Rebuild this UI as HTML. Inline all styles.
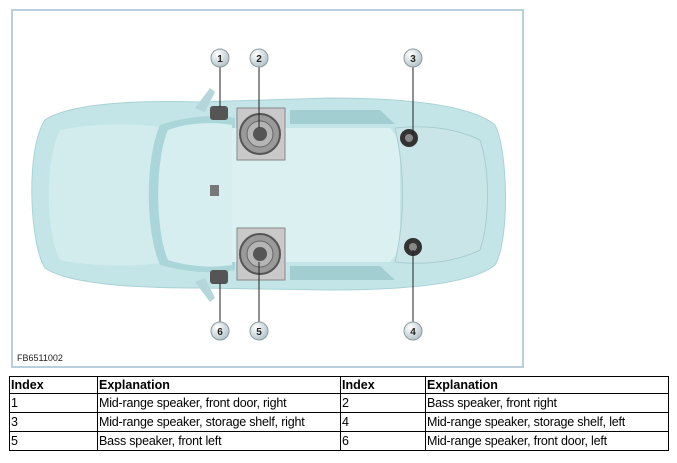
<!DOCTYPE html>
<html><head><meta charset="utf-8"><style>
body{margin:0;background:#fff;width:677px;height:463px;overflow:hidden;font-family:"Liberation Sans",Arial,sans-serif}
.frame{position:absolute;left:11px;top:9px;width:509px;height:355px;border:2px solid #b9cfdc}
table{position:absolute;left:9px;top:376px;border-collapse:collapse;font-size:12.5px;table-layout:fixed;width:659px}
td{border:1px solid #000;height:18px;padding:0 1px;line-height:18px;white-space:nowrap;overflow:hidden;letter-spacing:-0.2px}
th{border:1px solid #000;height:16px;padding:0 1px;text-align:left;font-weight:bold;font-size:12.5px}
</style></head><body>
<div class="frame"></div>
<svg width="677" height="370" style="position:absolute;left:0;top:0">
<defs>
<radialGradient id="cir" cx="35%" cy="30%" r="70%"><stop offset="0" stop-color="#ffffff"/><stop offset="1" stop-color="#b8c6cc"/></radialGradient>
</defs>
<path d="M45,120 C70,103 140,100 200,102 L330,98 C400,98 470,104 495,125 C508,150 510,240 495,265 C470,285 400,290 330,290 L200,288 C140,288 70,285 45,268 C30,245 25,150 45,120 Z" fill="#c4e5e8" stroke="#a9d2d6"/>
<path d="M60,130 C110,120 170,125 200,135 L200,255 C170,265 110,270 60,260 C45,230 45,160 60,130Z" fill="#d2ecee"/>
<path d="M160,125 C190,115 215,115 235,118 L235,270 C215,274 190,273 160,265 C145,230 145,160 160,125Z" fill="#aad6da"/>
<path d="M168,130 C190,122 215,122 232,125 L232,265 C215,268 190,267 168,260 C155,230 155,160 168,130Z" fill="#d6eef0"/>
<path d="M232,128 L390,128 L400,140 L400,250 L390,262 L232,262Z" fill="#daf0f1"/>
<path d="M395,128 C430,124 460,130 480,140 C490,170 490,220 480,250 C460,260 430,266 395,262 C405,220 405,170 395,128Z" fill="#cae5e8" stroke="#a9cdd1"/>
<path d="M290,110 L380,110 L395,124 L290,124Z" fill="#a2cdd1"/>
<path d="M290,266 L380,266 L395,280 L290,280Z" fill="#a2cdd1"/>
<path d="M195,108 L210,88 L215,92 L205,112Z" fill="#b5d6da"/>
<path d="M195,282 L210,302 L215,298 L205,278Z" fill="#b5d6da"/>
<g>
<rect x="237" y="108" width="48" height="52" fill="#c9c9c9" stroke="#888"/>
<circle cx="260" cy="134" r="20" fill="#9a9a9a" stroke="#555" stroke-width="2"/>
<circle cx="260" cy="134" r="13" fill="#b5b5b5" stroke="#666"/>
<circle cx="260" cy="134" r="7" fill="#555"/>
</g>
<g>
<rect x="237" y="228" width="48" height="52" fill="#c9c9c9" stroke="#888"/>
<circle cx="260" cy="254" r="20" fill="#9a9a9a" stroke="#555" stroke-width="2"/>
<circle cx="260" cy="254" r="13" fill="#b5b5b5" stroke="#666"/>
<circle cx="260" cy="254" r="7" fill="#555"/>
</g>
<rect x="210" y="106" width="18" height="14" rx="3" fill="#555"/>
<rect x="210" y="270" width="18" height="14" rx="3" fill="#555"/>
<circle cx="409" cy="138" r="9" fill="#333"/><circle cx="409" cy="138" r="4" fill="#888"/>
<circle cx="413" cy="247" r="9" fill="#333"/><circle cx="413" cy="247" r="4" fill="#888"/>
<rect x="210" y="185" width="9" height="11" fill="#777"/>
<g stroke="#222" stroke-width="1">
<line x1="220" y1="67" x2="220" y2="107"/>
<line x1="259" y1="67" x2="259" y2="128"/>
<line x1="413" y1="67" x2="413" y2="135"/>
<line x1="413" y1="250" x2="413" y2="322"/>
<line x1="259" y1="262" x2="259" y2="322"/>
<line x1="220" y1="283" x2="220" y2="322"/>
</g>
<g font-size="10" font-weight="bold" text-anchor="middle" fill="#222">
<circle cx="220" cy="58" r="9" fill="url(#cir)" stroke="#8a9aa2"/><text x="220" y="62">1</text>
<circle cx="259" cy="58" r="9" fill="url(#cir)" stroke="#8a9aa2"/><text x="259" y="62">2</text>
<circle cx="413" cy="58" r="9" fill="url(#cir)" stroke="#8a9aa2"/><text x="413" y="62">3</text>
<circle cx="413" cy="331" r="9" fill="url(#cir)" stroke="#8a9aa2"/><text x="413" y="335">4</text>
<circle cx="259" cy="331" r="9" fill="url(#cir)" stroke="#8a9aa2"/><text x="259" y="335">5</text>
<circle cx="220" cy="331" r="9" fill="url(#cir)" stroke="#8a9aa2"/><text x="220" y="335">6</text>
</g>
<text x="17" y="361" font-size="9" fill="#222">FB6511002</text>
</svg>
<table>
<colgroup><col style="width:88px"><col style="width:243px"><col style="width:85px"><col style="width:243px"></colgroup>
<tr><th>Index</th><th>Explanation</th><th>Index</th><th>Explanation</th></tr>
<tr><td>1</td><td>Mid-range speaker, front door, right</td><td>2</td><td>Bass speaker, front right</td></tr>
<tr><td>3</td><td>Mid-range speaker, storage shelf, right</td><td>4</td><td>Mid-range speaker, storage shelf, left</td></tr>
<tr><td>5</td><td>Bass speaker, front left</td><td>6</td><td>Mid-range speaker, front door, left</td></tr>
</table>
</body></html>
